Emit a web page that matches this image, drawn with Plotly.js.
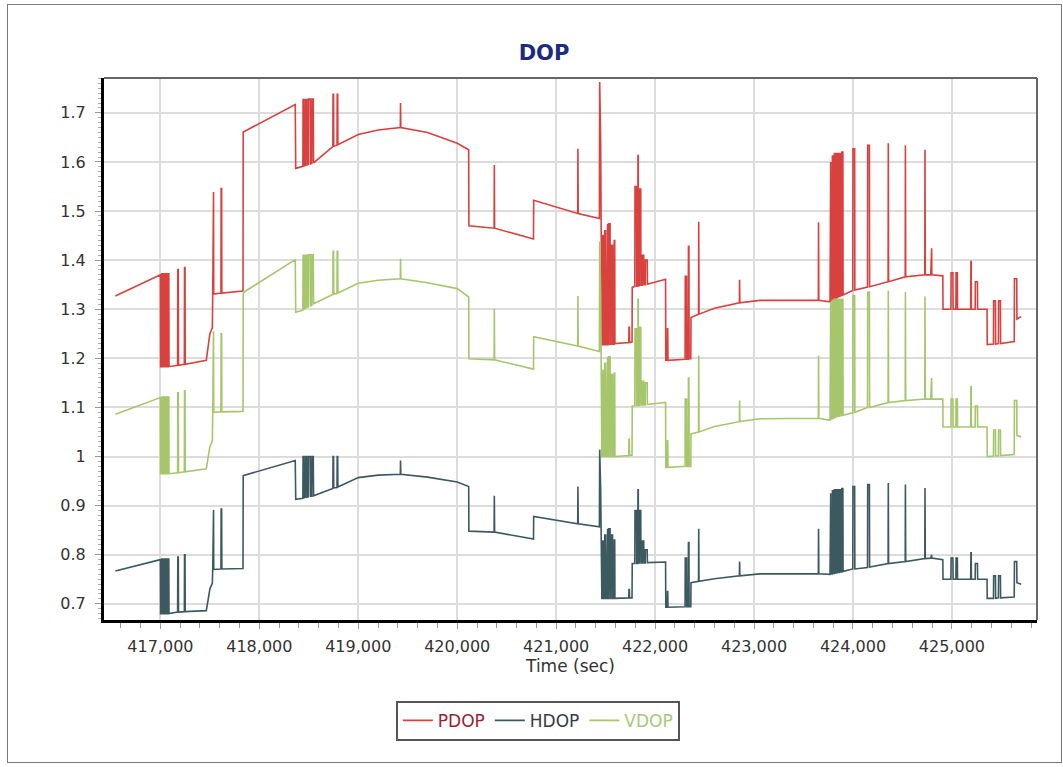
<!DOCTYPE html>
<html>
<head>
<meta charset="utf-8">
<script src="https://cdn.plot.ly/plotly-3.0.1.min.js"></script>
<style>
  html, body { margin: 0; padding: 0; background: #ffffff; }
  #chart { position: absolute; left: 0; top: 0; width: 1063px; height: 767px; }
  #frame { position: absolute; left: 7px; top: 4px; width: 1053px; height: 757px; border: 1.5px solid #7a7a7a; pointer-events: none; }
</style>
</head>
<body>
<div id="chart"></div>
<div id="frame"></div>
<script>
// Shared time axis (seconds) and DOP values
const timeSec = [
  416545, 417000, 417002, 417012, 417014, 417020, 417022, 417030, 417032, 417040,
  417042, 417052, 417054, 417062, 417064, 417075, 417077, 417085, 417087, 417174,
  417176, 417181, 417183, 417242, 417244, 417249, 417251, 417464, 417500, 417525,
  417529, 417532, 417537, 417539, 417612, 417614, 417619, 417621, 417835, 417837,
  418363, 418368, 418440, 418442, 418450, 418452, 418465, 418467, 418480, 418482,
  418495, 418497, 418515, 418517, 418530, 418532, 418545, 418548, 418743, 418745,
  418750, 418752, 418785, 418787, 418792, 418794, 419000, 419200, 419425, 419427,
  419430, 419700, 419900, 420000, 420116, 420118, 420373, 420375, 420378, 420771,
  420773, 421218, 421220, 421223, 421437, 421440, 421450, 421462, 421470, 421472,
  421480, 421482, 421490, 421492, 421500, 421502, 421512, 421514, 421520, 421522,
  421530, 421532, 421545, 421547, 421555, 421557, 421570, 421572, 421585, 421587,
  421592, 421594, 421734, 421736, 421740, 421742, 421767, 421769, 421795, 421797,
  421812, 421814, 421825, 421827, 421830, 421832, 421840, 421842, 421855, 421857,
  421870, 421872, 421885, 421887, 421900, 421902, 421920, 421922, 422106, 422108,
  422123, 422125, 422128, 422130, 422303, 422305, 422318, 422320, 422335, 422337,
  422342, 422344, 422361, 422363, 422439, 422441, 422444, 422600, 422852, 422854,
  422857, 423058, 423650, 423652, 423655, 423768, 423770, 423775, 423777, 423790,
  423792, 423798, 423800, 423810, 423812, 423822, 423824, 423835, 423837, 423847,
  423849, 423860, 423862, 423872, 423874, 423885, 423887, 423898, 423900, 423998,
  424000, 424017, 424019, 424147, 424149, 424166, 424168, 424355, 424357, 424360,
  424528, 424530, 424533, 424726, 424728, 424731, 424786, 424788, 424795, 424797,
  424908, 424910, 424990, 424992, 425010, 425012, 425040, 425042, 425055, 425057,
  425190, 425192, 425195, 425197, 425235, 425237, 425258, 425260, 425355, 425357,
  425420, 425422, 425440, 425442, 425470, 425472, 425490, 425492, 425630, 425632,
  425655, 425657, 425700
];

const pdop = [
  1.327, 1.370, 1.183, 1.183, 1.372, 1.372, 1.183, 1.183, 1.372, 1.372,
  1.183, 1.183, 1.372, 1.372, 1.183, 1.183, 1.372, 1.372, 1.183, 1.186,
  1.381, 1.381, 1.186, 1.188, 1.385, 1.385, 1.188, 1.196, 1.250, 1.262,
  1.330, 1.539, 1.539, 1.331, 1.333, 1.546, 1.546, 1.333, 1.337, 1.661,
  1.717, 1.587, 1.591, 1.727, 1.727, 1.592, 1.593, 1.727, 1.727, 1.594,
  1.595, 1.728, 1.728, 1.596, 1.597, 1.728, 1.728, 1.598, 1.631, 1.738,
  1.738, 1.632, 1.634, 1.738, 1.738, 1.635, 1.656, 1.665, 1.670, 1.720,
  1.670, 1.660, 1.646, 1.638, 1.625, 1.470, 1.465, 1.594, 1.465, 1.443,
  1.522, 1.495, 1.627, 1.495, 1.485, 1.763, 1.640, 1.228, 1.228, 1.450,
  1.450, 1.228, 1.228, 1.460, 1.460, 1.228, 1.228, 1.474, 1.474, 1.228,
  1.228, 1.474, 1.474, 1.229, 1.229, 1.430, 1.430, 1.229, 1.229, 1.440,
  1.440, 1.230, 1.232, 1.263, 1.263, 1.232, 1.233, 1.345, 1.346, 1.550,
  1.550, 1.347, 1.347, 1.613, 1.613, 1.348, 1.348, 1.545, 1.545, 1.349,
  1.349, 1.410, 1.410, 1.350, 1.350, 1.400, 1.400, 1.351, 1.361, 1.196,
  1.196, 1.260, 1.260, 1.196, 1.198, 1.367, 1.367, 1.198, 1.198, 1.428,
  1.428, 1.199, 1.199, 1.283, 1.290, 1.478, 1.290, 1.302, 1.313, 1.360,
  1.313, 1.318, 1.318, 1.477, 1.318, 1.315, 1.600, 1.600, 1.317, 1.318,
  1.612, 1.612, 1.320, 1.321, 1.617, 1.617, 1.322, 1.323, 1.617, 1.617,
  1.325, 1.326, 1.617, 1.617, 1.327, 1.328, 1.620, 1.620, 1.329, 1.338,
  1.627, 1.627, 1.339, 1.345, 1.634, 1.634, 1.346, 1.356, 1.638, 1.356,
  1.366, 1.634, 1.366, 1.370, 1.625, 1.370, 1.370, 1.424, 1.424, 1.370,
  1.368, 1.300, 1.300, 1.374, 1.374, 1.300, 1.300, 1.374, 1.374, 1.300,
  1.300, 1.397, 1.397, 1.300, 1.300, 1.356, 1.356, 1.300, 1.300, 1.228,
  1.229, 1.317, 1.317, 1.229, 1.230, 1.317, 1.317, 1.230, 1.234, 1.362,
  1.362, 1.280, 1.285
];

const hdop = [
  0.767, 0.790, 0.680, 0.680, 0.791, 0.791, 0.680, 0.680, 0.791, 0.791,
  0.680, 0.680, 0.791, 0.791, 0.680, 0.680, 0.791, 0.791, 0.680, 0.683,
  0.795, 0.795, 0.683, 0.684, 0.800, 0.800, 0.684, 0.686, 0.730, 0.742,
  0.770, 0.891, 0.891, 0.770, 0.771, 0.893, 0.893, 0.771, 0.772, 0.961,
  0.992, 0.913, 0.915, 1.000, 1.000, 0.916, 0.917, 1.000, 1.000, 0.917,
  0.918, 1.000, 1.000, 0.919, 0.919, 1.000, 1.000, 0.920, 0.935, 1.000,
  1.000, 0.936, 0.937, 1.000, 1.000, 0.938, 0.957, 0.962, 0.964, 0.992,
  0.964, 0.958, 0.951, 0.948, 0.939, 0.848, 0.846, 0.920, 0.846, 0.832,
  0.878, 0.863, 0.939, 0.863, 0.857, 1.014, 0.930, 0.711, 0.711, 0.828,
  0.828, 0.711, 0.711, 0.840, 0.840, 0.711, 0.711, 0.853, 0.853, 0.711,
  0.711, 0.853, 0.853, 0.711, 0.711, 0.840, 0.840, 0.711, 0.711, 0.830,
  0.830, 0.711, 0.712, 0.729, 0.729, 0.712, 0.712, 0.782, 0.782, 0.890,
  0.890, 0.782, 0.782, 0.932, 0.932, 0.783, 0.783, 0.890, 0.890, 0.783,
  0.783, 0.828, 0.828, 0.783, 0.783, 0.810, 0.810, 0.784, 0.785, 0.693,
  0.693, 0.725, 0.725, 0.693, 0.694, 0.793, 0.793, 0.694, 0.694, 0.825,
  0.825, 0.694, 0.694, 0.743, 0.746, 0.853, 0.746, 0.751, 0.757, 0.786,
  0.757, 0.761, 0.761, 0.853, 0.761, 0.760, 0.925, 0.925, 0.761, 0.761,
  0.930, 0.930, 0.762, 0.762, 0.932, 0.932, 0.763, 0.763, 0.932, 0.932,
  0.764, 0.764, 0.932, 0.932, 0.765, 0.765, 0.935, 0.935, 0.766, 0.771,
  0.939, 0.939, 0.771, 0.774, 0.943, 0.943, 0.775, 0.782, 0.946, 0.782,
  0.786, 0.943, 0.786, 0.792, 0.936, 0.792, 0.793, 0.800, 0.800, 0.793,
  0.790, 0.750, 0.750, 0.793, 0.793, 0.750, 0.750, 0.793, 0.793, 0.750,
  0.750, 0.804, 0.804, 0.750, 0.750, 0.782, 0.782, 0.750, 0.750, 0.711,
  0.711, 0.757, 0.757, 0.711, 0.712, 0.757, 0.757, 0.712, 0.714, 0.786,
  0.786, 0.743, 0.740
];

const vdop = [
  1.086, 1.120, 0.965, 0.965, 1.121, 1.121, 0.965, 0.965, 1.121, 1.121,
  0.965, 0.965, 1.121, 1.121, 0.965, 0.965, 1.121, 1.121, 0.965, 0.967,
  1.130, 1.130, 0.967, 0.969, 1.134, 1.134, 0.969, 0.975, 1.020, 1.032,
  1.090, 1.255, 1.255, 1.090, 1.091, 1.250, 1.250, 1.091, 1.092, 1.334,
  1.401, 1.294, 1.298, 1.410, 1.410, 1.300, 1.302, 1.410, 1.410, 1.304,
  1.305, 1.411, 1.411, 1.307, 1.308, 1.411, 1.411, 1.311, 1.330, 1.418,
  1.418, 1.331, 1.332, 1.418, 1.418, 1.333, 1.353, 1.359, 1.362, 1.403,
  1.362, 1.354, 1.347, 1.342, 1.325, 1.199, 1.197, 1.301, 1.197, 1.178,
  1.244, 1.225, 1.327, 1.225, 1.214, 1.438, 1.330, 1.000, 1.000, 1.175,
  1.175, 1.000, 1.000, 1.190, 1.190, 1.000, 1.000, 1.203, 1.203, 1.000,
  1.000, 1.203, 1.203, 1.000, 1.000, 1.167, 1.167, 1.000, 1.000, 1.170,
  1.170, 1.000, 1.002, 1.035, 1.035, 1.002, 1.003, 1.103, 1.103, 1.260,
  1.260, 1.104, 1.104, 1.320, 1.320, 1.104, 1.104, 1.263, 1.263, 1.105,
  1.105, 1.153, 1.153, 1.105, 1.105, 1.150, 1.150, 1.106, 1.110, 0.978,
  0.978, 1.032, 1.032, 0.978, 0.980, 1.117, 1.117, 0.980, 0.980, 1.160,
  1.160, 0.980, 0.980, 1.046, 1.050, 1.206, 1.050, 1.061, 1.071, 1.114,
  1.071, 1.077, 1.078, 1.206, 1.078, 1.074, 1.315, 1.315, 1.076, 1.077,
  1.318, 1.318, 1.078, 1.079, 1.320, 1.320, 1.080, 1.081, 1.320, 1.320,
  1.082, 1.082, 1.320, 1.320, 1.083, 1.083, 1.320, 1.320, 1.084, 1.089,
  1.328, 1.328, 1.090, 1.100, 1.335, 1.335, 1.100, 1.110, 1.338, 1.110,
  1.114, 1.335, 1.114, 1.117, 1.326, 1.117, 1.117, 1.160, 1.160, 1.117,
  1.117, 1.060, 1.060, 1.117, 1.117, 1.060, 1.060, 1.117, 1.117, 1.060,
  1.060, 1.142, 1.142, 1.060, 1.060, 1.103, 1.103, 1.060, 1.060, 1.000,
  1.001, 1.054, 1.054, 1.001, 1.001, 1.054, 1.054, 1.002, 1.004, 1.114,
  1.114, 1.043, 1.040
];

const seriesNames = ['PDOP', 'HDOP', 'VDOP'];
const lineColors = ['#d9413f', '#3d5960', '#a6c66b'];
const legendTextColors = ['#9a1f35', '#333d44', '#a9c77a'];
const seriesValues = [pdop, hdop, vdop];

const xTickStart = 417000;
const xTickStep = 1000;
const yTickStart = 0.7;
const yTickStep = 0.1;

const traces = seriesNames.map((name, i) => ({
  type: 'scatter',
  mode: 'lines',
  x: timeSec,
  y: seriesValues[i],
  name: '<span style="color:' + legendTextColors[i] + '">' + name + '</span>',
  line: { color: lineColors[i], width: 1.6 }
}));

const fontFamily = 'DejaVu Sans, Verdana, sans-serif';

const layout = {
  width: 1063,
  height: 767,
  margin: { l: 104, r: 26, t: 78, b: 147 },
  paper_bgcolor: 'rgba(0,0,0,0)',
  plot_bgcolor: '#ffffff',
  font: { family: fontFamily, size: 16, color: '#333333' },
  showlegend: true,
  hovermode: false,
  title: {
    text: 'DOP',
    font: { family: fontFamily, size: 21, color: '#1c2a80', weight: 'bold' },
    x: 0.4716, xref: 'paper', xanchor: 'center',
    y: 0.932, yref: 'container', yanchor: 'middle'
  },
  xaxis: {
    range: [416430, 425860],
    tickmode: 'linear', tick0: xTickStart, dtick: xTickStep,
    tickformat: ',d',
    showgrid: true, gridcolor: '#dcdcdc', gridwidth: 2,
    zeroline: false,
    showline: true, linecolor: '#000000', linewidth: 3,
    ticks: 'outside', ticklen: 6, tickcolor: '#9a9a9a', tickwidth: 1,
    ticklabelstandoff: 4,
    minor: { dtick: 200, ticks: 'outside', ticklen: 5, tickcolor: '#9a9a9a', tickwidth: 1, showgrid: false },
    tickfont: { family: fontFamily, size: 16, color: '#333333' },
    title: { text: 'Time (sec)', font: { family: fontFamily, size: 17, color: '#333333' }, standoff: 2 },
    automargin: false
  },
  yaxis: {
    range: [0.667, 1.771],
    tickmode: 'linear', tick0: yTickStart, dtick: yTickStep,
    showgrid: true, gridcolor: '#dcdcdc', gridwidth: 2,
    zeroline: false,
    showline: true, linecolor: '#000000', linewidth: 3,
    ticks: 'outside', ticklen: 6, tickcolor: '#9a9a9a', tickwidth: 1,
    ticklabelstandoff: 6,
    minor: { dtick: 0.01, ticks: 'outside', ticklen: 3, tickcolor: '#b0b0b0', tickwidth: 1, showgrid: false },
    tickfont: { family: fontFamily, size: 16, color: '#333333' },
    automargin: false
  },
  legend: {
    orientation: 'h',
    x: 0.465, xanchor: 'center', xref: 'paper',
    y: -0.186, yanchor: 'middle', yref: 'paper',
    bgcolor: '#ffffff',
    bordercolor: '#555555', borderwidth: 2,
    font: { family: fontFamily, size: 17, color: '#333333' },
    itemwidth: 30
  },
  shapes: [
    { type: 'line', xref: 'paper', yref: 'paper', x0: 0, x1: 1, y0: 1, y1: 1, line: { color: '#666666', width: 2 } },
    { type: 'line', xref: 'paper', yref: 'paper', x0: 1, x1: 1, y0: 0, y1: 1, line: { color: '#666666', width: 2 } }
  ]
};

Plotly.newPlot('chart', traces, layout, { staticPlot: true, displayModeBar: false });
</script>
</body>
</html>
